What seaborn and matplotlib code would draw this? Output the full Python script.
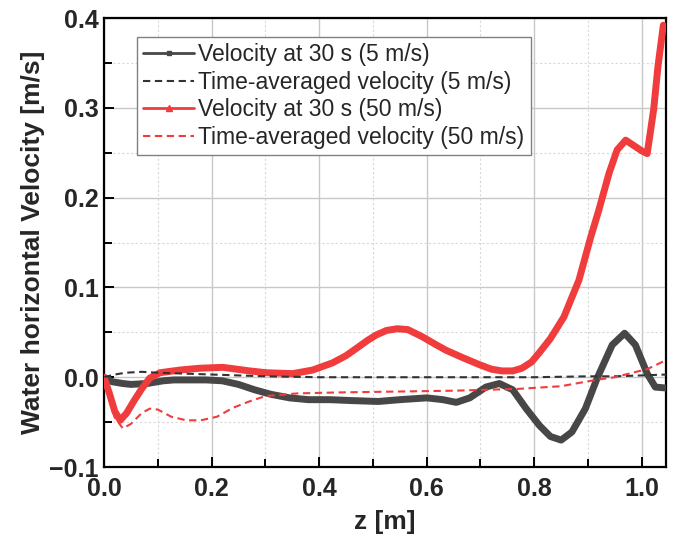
import matplotlib
matplotlib.use("Agg")
import matplotlib.pyplot as plt
from matplotlib.lines import Line2D
from matplotlib.ticker import MultipleLocator
import seaborn as sns

# Velocity at 30 s, inflow 5 m/s
z_v30_5 = [0.000, 0.015, 0.035, 0.050, 0.080, 0.110, 0.130, 0.160, 0.190, 0.220,
           0.250, 0.280, 0.310, 0.345, 0.380, 0.420, 0.460, 0.510, 0.550, 0.600,
           0.630, 0.655, 0.680, 0.710, 0.735, 0.760, 0.785, 0.810, 0.830, 0.850,
           0.870, 0.895, 0.917, 0.945, 0.968, 0.988, 1.010, 1.025, 1.045]
u_v30_5 = [0.000, -0.005, -0.007, -0.008, -0.007, -0.004, -0.003, -0.003, -0.003, -0.004,
           -0.008, -0.014, -0.019, -0.023, -0.025, -0.025, -0.026, -0.027, -0.025, -0.023,
           -0.025, -0.028, -0.023, -0.011, -0.007, -0.014, -0.035, -0.054, -0.066, -0.070,
           -0.061, -0.035, -0.001, 0.036, 0.049, 0.036, 0.004, -0.011, -0.012]

# Time-averaged velocity, inflow 5 m/s
z_avg_5 = [0.00, 0.02, 0.04, 0.07, 0.10, 0.15, 0.20, 0.30, 0.40, 0.50,
           0.60, 0.70, 0.80, 0.90, 0.95, 1.00, 1.045]
u_avg_5 = [0.000, 0.003, 0.005, 0.006, 0.005, 0.004, 0.003, 0.001, 0.000, 0.000,
           0.000, 0.000, 0.000, 0.001, 0.001, 0.002, 0.003]

# Velocity at 30 s, inflow 50 m/s
z_v30_50 = [0.000, 0.010, 0.020, 0.030, 0.042, 0.057, 0.070, 0.085, 0.104, 0.141,
            0.178, 0.221, 0.271, 0.302, 0.351, 0.388, 0.425, 0.450, 0.469, 0.490,
            0.506, 0.525, 0.545, 0.565, 0.592, 0.615, 0.636, 0.670, 0.698, 0.720,
            0.740, 0.760, 0.777, 0.795, 0.809, 0.830, 0.855, 0.883, 0.905, 0.920,
            0.939, 0.954, 0.970, 0.985, 1.000, 1.010, 1.022, 1.030, 1.040]
u_v30_50 = [0.000, -0.018, -0.038, -0.048, -0.040, -0.025, -0.013, -0.001, 0.005, 0.008,
            0.010, 0.011, 0.007, 0.005, 0.004, 0.008, 0.016, 0.024, 0.032, 0.041,
            0.047, 0.052, 0.054, 0.053, 0.045, 0.037, 0.030, 0.021, 0.014, 0.009,
            0.007, 0.007, 0.010, 0.017, 0.027, 0.043, 0.067, 0.108, 0.156, 0.186,
            0.227, 0.253, 0.264, 0.258, 0.252, 0.249, 0.298, 0.346, 0.392]

# Time-averaged velocity, inflow 50 m/s
z_avg_50 = [0.000, 0.010, 0.020, 0.035, 0.050, 0.070, 0.085, 0.100, 0.125, 0.153,
            0.180, 0.210, 0.240, 0.270, 0.300, 0.360, 0.430, 0.540, 0.650, 0.770,
            0.850, 0.914, 0.950, 0.976, 1.010, 1.045]
u_avg_50 = [0.000, -0.025, -0.045, -0.057, -0.052, -0.040, -0.035, -0.036, -0.044, -0.048,
            -0.048, -0.044, -0.034, -0.027, -0.021, -0.018, -0.017, -0.016, -0.015, -0.013,
            -0.010, -0.003, 0.000, 0.004, 0.009, 0.019]

labels = ["Velocity at 30 s (5 m/s)",
          "Time-averaged velocity (5 m/s)",
          "Velocity at 30 s (50 m/s)",
          "Time-averaged velocity (50 m/s)"]

sns.set_style("white")
plt.rcParams["font.family"] = ["Liberation Sans", "DejaVu Sans"]

GRAY = "#474747"
DGRAY = "#333333"
RED = "#F03C3C"

fig = plt.figure(figsize=(6.75, 5.44), dpi=100)
ax = fig.add_axes([0.1541, 0.1415, 0.8326, 0.8254])

dash = (3.5, 2.2)
sns.lineplot(x=z_v30_5, y=u_v30_5, ax=ax, color=GRAY, linewidth=5.0,
             sort=False, estimator=None, zorder=3)
sns.lineplot(x=z_avg_5, y=u_avg_5, ax=ax, color=DGRAY, linewidth=1.5,
             sort=False, estimator=None, zorder=4)
ax.lines[-1].set_dashes(dash)
sns.lineplot(x=z_v30_50, y=u_v30_50, ax=ax, color=RED, linewidth=5.0,
             sort=False, estimator=None, zorder=3)
sns.lineplot(x=z_avg_50, y=u_avg_50, ax=ax, color=RED, linewidth=1.5,
             sort=False, estimator=None, zorder=4)
ax.lines[-1].set_dashes(dash)

ax.set_xlim(0, 1.045)
ax.set_ylim(-0.1, 0.4)
ax.xaxis.set_minor_locator(MultipleLocator(0.1))
ax.yaxis.set_minor_locator(MultipleLocator(0.05))
ax.set_xticks([0.0, 0.2, 0.4, 0.6, 0.8, 1.0])
ax.set_xticklabels(["0.0", "0.2", "0.4", "0.6", "0.8", "1.0"])
ax.set_yticks([-0.1, 0.0, 0.1, 0.2, 0.3, 0.4])
ax.set_yticklabels(["\u22120.1", "0.0", "0.1", "0.2", "0.3", "0.4"])

ax.grid(True, which="major", color="#c8c8c8", linewidth=1.0, linestyle="-", zorder=0)
ax.grid(True, which="minor", color="#d8d8d8", linewidth=0.8, linestyle=(0, (2, 2)), zorder=0)
ax.set_axisbelow(True)

for s in ax.spines.values():
    s.set_color("black")
    s.set_linewidth(1.6)

ax.tick_params(which="both", direction="in", top=False, right=False,
               left=True, bottom=True, width=1.4, color="black")
ax.tick_params(which="major", length=7, labelsize=18)
ax.tick_params(which="minor", length=6)
ax.tick_params(axis="x", which="major", pad=7)
ax.tick_params(axis="y", which="major", pad=4)
for t in ax.get_xticklabels() + ax.get_yticklabels():
    t.set_fontweight("bold")

ax.set_xlabel("z [m]", fontsize=19, fontweight="bold", labelpad=7)
ax.set_ylabel("Water horizontal Velocity [m/s]", fontsize=19, fontweight="bold", labelpad=3)

handles = [
    Line2D([], [], color=GRAY, linewidth=2.0, marker="s", markersize=3.5),
    Line2D([], [], color=DGRAY, linewidth=1.5, dashes=dash),
    Line2D([], [], color=RED, linewidth=2.0, marker="^", markersize=4),
    Line2D([], [], color=RED, linewidth=1.5, dashes=dash),
]
leg = ax.legend(handles, labels, loc="upper left", bbox_to_anchor=(0.0587, 0.958),
                borderaxespad=0, fontsize=16.5, frameon=True, fancybox=False,
                handlelength=2.2, handletextpad=0.2, labelspacing=0.2,
                borderpad=0.28, framealpha=1.0)
leg.get_frame().set_edgecolor("#808080")
leg.get_frame().set_linewidth(1.0)

fig.savefig("out.png", dpi=100)
